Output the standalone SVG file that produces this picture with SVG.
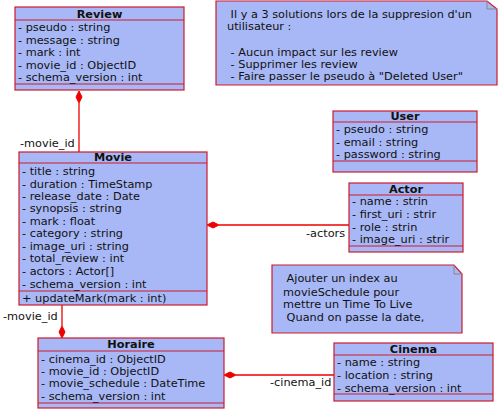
<svg xmlns="http://www.w3.org/2000/svg" width="498" height="409" viewBox="0 0 498 409">
<style>
text{font-family:"DejaVu Sans",sans-serif;font-size:11.3px;fill:#111}
.h{font-weight:bold;text-anchor:middle}
.box{fill:#a8b8f6;stroke:#cc1b2b;stroke-width:1.2}
.sep{stroke:#cc1b2b;stroke-width:1.2}
.con{stroke:#e00;stroke-width:1.3;fill:none}
.dia{fill:#e00;stroke:#e00;stroke-width:1}
.fold{fill:none;stroke:#888;stroke-width:1}
</style>
<defs>
<clipPath id="actClip"><rect x="349" y="183" width="114" height="69"/></clipPath>
</defs>
<g id="connectors">
<line class="con" x1="79" y1="103" x2="79" y2="152"/>
<polygon class="dia" points="79,91 82,97 79,103 76,97"/>
<text x="20" y="147">-movie_id</text>
<line class="con" x1="219" y1="225" x2="349" y2="225"/>
<polygon class="dia" points="207,225 213,222 219,225 213,228"/>
<text x="306" y="237">-actors</text>
<line class="con" x1="62" y1="305" x2="62" y2="326"/>
<polygon class="dia" points="62,326 65,332 62,338 59,332"/>
<text x="3" y="320">-movie_id</text>
<line class="con" x1="236" y1="375" x2="334" y2="375"/>
<polygon class="dia" points="224,375 230,372 236,375 230,378"/>
<text x="270" y="386">-cinema_id</text>
</g>
<g id="review">
<rect class="box" x="15" y="7" width="169" height="83"/>
<line class="sep" x1="15" y1="20" x2="184" y2="20"/>
<line class="sep" x1="15" y1="84" x2="184" y2="84"/>
<text class="h" x="99.5" y="18">Review</text>
<text x="18" y="31">- pseudo : string</text>
<text x="18" y="43.5">- message : string</text>
<text x="18" y="56">- mark : int</text>
<text x="18" y="68.5">- movie_id : ObjectID</text>
<text x="18" y="81">- schema_version : int</text>
</g>
<g id="note1">
<polygon class="box" points="216,1 487,1 497,9 497,85 216,85"/>
<polyline class="fold" points="487,1 487,9 497,9"/>
<text x="227" y="18" xml:space="preserve"> Il y a 3 solutions lors de la suppresion d'un</text>
<text x="227" y="30">utilisateur :</text>
<text x="227" y="56" xml:space="preserve"> - Aucun impact sur les review</text>
<text x="227" y="67.5" xml:space="preserve"> - Supprimer les review</text>
<text x="227" y="80" xml:space="preserve"> - Faire passer le pseudo à "Deleted User"</text>
</g>
<g id="user">
<rect class="box" x="333" y="111" width="144" height="61"/>
<line class="sep" x1="333" y1="122" x2="477" y2="122"/>
<line class="sep" x1="333" y1="161" x2="477" y2="161"/>
<text class="h" x="405" y="120">User</text>
<text x="336" y="133">- pseudo : string</text>
<text x="336" y="146">- email : string</text>
<text x="336" y="158">- password : string</text>
</g>
<g id="movie">
<rect class="box" x="19" y="152" width="188" height="153"/>
<line class="sep" x1="19" y1="163" x2="207" y2="163"/>
<line class="sep" x1="19" y1="291" x2="207" y2="291"/>
<text class="h" x="113" y="161">Movie</text>
<text x="22" y="175">- title : string</text>
<text x="22" y="187.5">- duration : TimeStamp</text>
<text x="22" y="199.5">- release_date : Date</text>
<text x="22" y="212">- synopsis : string</text>
<text x="22" y="224.5">- mark : float</text>
<text x="22" y="237">- category : string</text>
<text x="22" y="250">- image_uri : string</text>
<text x="22" y="262">- total_review : int</text>
<text x="22" y="275">- actors : Actor[]</text>
<text x="22" y="287.5">- schema_version : int</text>
<text x="22" y="301.5">+ updateMark(mark : int)</text>
</g>
<g id="actor">
<rect class="box" x="349" y="183" width="114" height="69"/>
<line class="sep" x1="349" y1="195" x2="463" y2="195"/>
<line class="sep" x1="349" y1="246" x2="463" y2="246"/>
<text class="h" x="406" y="193">Actor</text>
<g clip-path="url(#actClip)">
<text x="352" y="205">- name : strin</text>
<text x="352" y="218">- first_uri : strir</text>
<text x="352" y="231">- role : strin</text>
<text x="352" y="243">- image_uri : strir</text>
</g>
</g>
<g id="note2">
<polygon class="box" points="272,265 454,265 462,274 462,333 272,333"/>
<polyline class="fold" points="454,265 454,274 462,274"/>
<text x="283" y="282" xml:space="preserve"> Ajouter un index au</text>
<text x="283" y="296">movieSchedule pour</text>
<text x="283" y="308">mettre un Time To Live</text>
<text x="283" y="321" xml:space="preserve"> Quand on passe la date,</text>
</g>
<g id="horaire">
<rect class="box" x="38" y="338" width="186" height="70"/>
<line class="sep" x1="38" y1="351" x2="224" y2="351"/>
<line class="sep" x1="38" y1="403" x2="224" y2="403"/>
<text class="h" x="131" y="348">Horaire</text>
<text x="41" y="363">- cinema_id : ObjectID</text>
<text x="41" y="375">- movie_id : ObjectID</text>
<text x="41" y="387">- movie_schedule : DateTime</text>
<text x="41" y="400">- schema_version : int</text>
</g>
<g id="cinema">
<rect class="box" x="334" y="343" width="159" height="58"/>
<line class="sep" x1="334" y1="355" x2="493" y2="355"/>
<line class="sep" x1="334" y1="394" x2="493" y2="394"/>
<text class="h" x="413.5" y="353">Cinema</text>
<text x="337" y="366">- name : string</text>
<text x="337" y="379">- location : string</text>
<text x="337" y="392">- schema_version : int</text>
</g>
</svg>
